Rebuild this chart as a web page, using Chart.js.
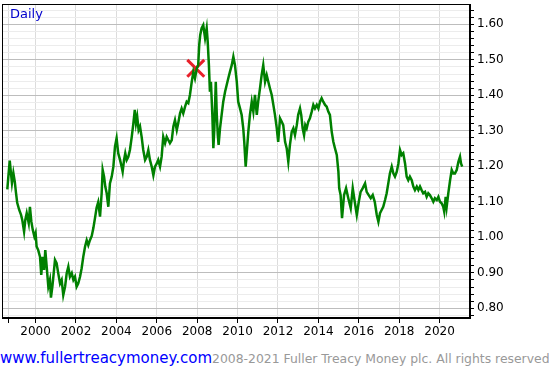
<!DOCTYPE html>
<html>
<head>
<meta charset="utf-8">
<script src="https://cdn.jsdelivr.net/npm/chart.js@4/dist/chart.umd.min.js"></script>
<style>
  body { margin: 0; background: #fff; width: 549px; height: 373px; overflow: hidden; position: relative; font-family: 'DejaVu Sans', sans-serif; }
  #chart { position: absolute; left: 0; top: 0; }
  #daily { position: absolute; left: 10px; top: 6px; color: #0000cc; font-size: 13px; line-height: 16px; }
  #foot { position: absolute; left: 0; top: 349px; white-space: nowrap; line-height: 18px; }
  #foot .url { color: #0000ff; font-size: 15px; }
  #foot .copy { color: #999999; font-size: 12.4px; }
</style>
</head>
<body>
<canvas id="chart" width="549" height="340"></canvas>
<div id="daily">Daily</div>
<div id="foot"><span class="url">www.fullertreacymoney.com</span><span class="copy">2008-2021 Fuller Treacy Money plc. All rights reserved</span></div>
<script>
// EUR/USD daily (year, rate)
const years = [
  1998.60, 1998.68, 1998.72, 1998.78, 1998.83, 1998.90, 1998.97, 1999.03, 1999.09, 1999.19,
  1999.28, 1999.34, 1999.43, 1999.49, 1999.56, 1999.66, 1999.72, 1999.79, 1999.86, 1999.94,
  2000.00, 2000.05, 2000.13, 2000.22, 2000.28, 2000.35, 2000.42, 2000.48, 2000.55, 2000.63,
  2000.71, 2000.76, 2000.83, 2000.88, 2000.96, 2001.04, 2001.12, 2001.21, 2001.29, 2001.37,
  2001.46, 2001.54, 2001.62, 2001.70, 2001.79, 2001.87, 2001.95, 2002.03, 2002.11, 2002.20,
  2002.28, 2002.36, 2002.45, 2002.53, 2002.61, 2002.69, 2002.78, 2002.86, 2002.94, 2003.02,
  2003.10, 2003.19, 2003.27, 2003.32, 2003.39, 2003.45, 2003.52, 2003.60, 2003.68, 2003.77,
  2003.85, 2003.93, 2004.01, 2004.09, 2004.18, 2004.26, 2004.31, 2004.38, 2004.44, 2004.51,
  2004.59, 2004.67, 2004.76, 2004.84, 2004.91, 2004.97, 2005.03, 2005.10, 2005.17, 2005.25,
  2005.33, 2005.42, 2005.50, 2005.58, 2005.66, 2005.75, 2005.83, 2005.91, 2006.00, 2006.07,
  2006.16, 2006.24, 2006.32, 2006.41, 2006.49, 2006.57, 2006.65, 2006.74, 2006.82, 2006.90,
  2006.99, 2007.06, 2007.15, 2007.23, 2007.31, 2007.40, 2007.48, 2007.56, 2007.64, 2007.73,
  2007.81, 2007.89, 2007.98, 2008.05, 2008.10, 2008.15, 2008.22, 2008.30, 2008.39, 2008.47,
  2008.52, 2008.58, 2008.63, 2008.68, 2008.75, 2008.80, 2008.85, 2008.92, 2008.97, 2009.02,
  2009.06, 2009.13, 2009.21, 2009.29, 2009.38, 2009.46, 2009.54, 2009.62, 2009.71, 2009.79,
  2009.87, 2009.96, 2010.03, 2010.12, 2010.20, 2010.28, 2010.33, 2010.40, 2010.47, 2010.53,
  2010.61, 2010.70, 2010.78, 2010.86, 2010.95, 2011.02, 2011.11, 2011.19, 2011.27, 2011.36,
  2011.44, 2011.52, 2011.60, 2011.69, 2011.77, 2011.85, 2011.94, 2012.01, 2012.10, 2012.18,
  2012.26, 2012.35, 2012.43, 2012.51, 2012.59, 2012.68, 2012.76, 2012.84, 2012.93, 2013.00,
  2013.09, 2013.15, 2013.22, 2013.29, 2013.35, 2013.42, 2013.50, 2013.58, 2013.67, 2013.75,
  2013.83, 2013.92, 2014.00, 2014.08, 2014.16, 2014.24, 2014.33, 2014.41, 2014.49, 2014.57,
  2014.66, 2014.74, 2014.82, 2014.91, 2014.99, 2015.03, 2015.10, 2015.17, 2015.27, 2015.37,
  2015.48, 2015.60, 2015.70, 2015.80, 2015.90, 2016.00, 2016.09, 2016.19, 2016.31, 2016.39,
  2016.49, 2016.59, 2016.69, 2016.79, 2016.89, 2016.97, 2017.05, 2017.13, 2017.21, 2017.30,
  2017.38, 2017.46, 2017.54, 2017.63, 2017.71, 2017.79, 2017.88, 2017.96, 2018.04, 2018.12,
  2018.20, 2018.29, 2018.37, 2018.45, 2018.53, 2018.62, 2018.70, 2018.78, 2018.87, 2018.95,
  2019.03, 2019.11, 2019.19, 2019.28, 2019.36, 2019.44, 2019.52, 2019.61, 2019.69, 2019.77,
  2019.86, 2019.94, 2020.02, 2020.10, 2020.18, 2020.23, 2020.30, 2020.35, 2020.43, 2020.52,
  2020.60, 2020.68, 2020.76, 2020.85, 2020.93, 2021.01, 2021.06, 2021.12
];
const rates = [
  1.135, 1.190, 1.216, 1.181, 1.153, 1.181, 1.157, 1.125, 1.097, 1.077,
  1.063, 1.049, 1.016, 1.049, 1.068, 1.040, 1.086, 1.044, 1.021, 1.002,
  1.012, 0.974, 0.964, 0.945, 0.894, 0.945, 0.908, 0.964, 0.917, 0.861,
  0.880, 0.830, 0.861, 0.889, 0.936, 0.927, 0.899, 0.870, 0.880, 0.837,
  0.861, 0.899, 0.917, 0.889, 0.899, 0.880, 0.889, 0.861, 0.870, 0.889,
  0.913, 0.945, 0.974, 0.992, 0.978, 0.992, 1.004, 1.026, 1.054, 1.083,
  1.099, 1.058, 1.124, 1.190, 1.171, 1.143, 1.124, 1.086, 1.152, 1.171,
  1.199, 1.255, 1.279, 1.237, 1.218, 1.199, 1.185, 1.218, 1.237, 1.218,
  1.227, 1.246, 1.283, 1.321, 1.359, 1.321, 1.340, 1.302, 1.312, 1.283,
  1.246, 1.218, 1.227, 1.246, 1.218, 1.199, 1.175, 1.199, 1.208, 1.218,
  1.199, 1.227, 1.283, 1.265, 1.283, 1.274, 1.265, 1.274, 1.312, 1.330,
  1.302, 1.321, 1.349, 1.363, 1.349, 1.368, 1.382, 1.378, 1.401, 1.438,
  1.466, 1.448, 1.476, 1.485, 1.542, 1.570, 1.589, 1.598, 1.561, 1.589,
  1.551, 1.485, 1.410, 1.438, 1.345, 1.251, 1.307, 1.438, 1.345, 1.288,
  1.260, 1.307, 1.345, 1.382, 1.410, 1.429, 1.448, 1.466, 1.485, 1.509,
  1.485, 1.438, 1.382, 1.363, 1.345, 1.307, 1.269, 1.199, 1.251, 1.297,
  1.345, 1.382, 1.354, 1.401, 1.345, 1.382, 1.420, 1.457, 1.485, 1.438,
  1.457, 1.438, 1.420, 1.401, 1.373, 1.345, 1.307, 1.269, 1.335, 1.326,
  1.316, 1.269, 1.251, 1.213, 1.260, 1.297, 1.307, 1.288, 1.316, 1.345,
  1.363, 1.345, 1.307, 1.288, 1.316, 1.307, 1.326, 1.335, 1.354, 1.373,
  1.363, 1.373, 1.363, 1.382, 1.392, 1.382, 1.373, 1.368, 1.354, 1.345,
  1.297, 1.269, 1.251, 1.232, 1.185, 1.138, 1.119, 1.054, 1.119, 1.138,
  1.110, 1.082, 1.138, 1.100, 1.063, 1.100, 1.128, 1.138, 1.152, 1.128,
  1.119, 1.110, 1.119, 1.100, 1.063, 1.044, 1.068, 1.077, 1.086, 1.105,
  1.124, 1.152, 1.180, 1.199, 1.180, 1.171, 1.185, 1.208, 1.246, 1.232,
  1.237, 1.208, 1.171, 1.161, 1.171, 1.161, 1.143, 1.133, 1.143, 1.133,
  1.143, 1.133, 1.124, 1.128, 1.114, 1.124, 1.119, 1.110, 1.100, 1.110,
  1.105, 1.114, 1.100, 1.096, 1.086, 1.072, 1.114, 1.086, 1.124, 1.161,
  1.190, 1.180, 1.180, 1.190, 1.213, 1.227, 1.208, 1.199
];

// red cross marker
const markerYear = [2007.93];
const markerRate = [1.476];

// axis ticks and labels
const xTickYears = [2000, 2002, 2004, 2006, 2008, 2010, 2012, 2014, 2016, 2018, 2020];
const xTickLabels = ['2000', '2002', '2004', '2006', '2008', '2010', '2012', '2014', '2016', '2018', '2020'];
const yMajor = [0.8, 0.9, 1.0, 1.1, 1.2, 1.3, 1.4, 1.5, 1.6];
const yLabels = ['0.80', '0.90', '1.00', '1.10', '1.20', '1.30', '1.40', '1.50', '1.60'];

const isMajor = v => yMajor.some(m => Math.abs(m - v) < 1e-6);

// box round the plot area (top and left sides)
const frame = {
    id: 'frame',
    afterDraw(chart) {
        const a = chart.chartArea;
        const c = chart.ctx;
        c.save();
        c.strokeStyle = '#000';
        c.lineWidth = 1;
        c.strokeRect(a.left + 0.5, a.top + 0.5, a.right - a.left - 1, a.bottom - a.top - 1);
        c.restore();
    }
};

const ctx = document.getElementById('chart').getContext('2d');
new Chart(ctx, {
    type: 'line',
    data: {
        datasets: [{
            data: years.map((y, i) => ({ x: y, y: rates[i] })),
            borderColor: '#008000',
            borderWidth: 2.5,
            pointRadius: 0,
            tension: 0,
            fill: false
        }, {
            type: 'scatter',
            data: markerYear.map((y, i) => ({ x: y, y: markerRate[i] })),
            pointStyle: 'crossRot',
            pointRadius: 12,
            borderColor: '#e8202a',
            borderWidth: 3,
            backgroundColor: '#e8202a'
        }]
    },
    options: {
        responsive: false,
        animation: false,
        devicePixelRatio: 1,
        layout: { autoPadding: false, padding: { left: 2, top: 4, right: 0, bottom: 0 } },
        plugins: {
            legend: { display: false },
            tooltip: { enabled: false }
        },
        scales: {
            x: {
                type: 'linear',
                min: 1998.337,
                max: 2021.505,
                afterFit: s => {
                    s.height = 22;
                    s.paddingLeft = 0;
                    s.paddingRight = 0;
                },
                afterBuildTicks: s => {
                    s.ticks = [1998.65].concat(xTickYears).map(v => ({ value: v }));
                },
                grid: { color: '#dcdcdc', tickColor: '#000', tickLength: 5 },
                border: { color: '#000' },
                ticks: {
                    autoSkip: false,
                    maxRotation: 0,
                    padding: 2,
                    color: '#000',
                    font: { family: 'DejaVu Sans', size: 12 },
                    callback: v => {
                        const i = xTickYears.indexOf(v);
                        return i >= 0 ? xTickLabels[i] : '';
                    }
                }
            },
            y: {
                position: 'right',
                min: 0.7727,
                max: 1.6572,
                afterFit: s => {
                    s.width = 79;
                    s.paddingTop = 0;
                    s.paddingBottom = 0;
                },
                afterBuildTicks: s => {
                    const t = [];
                    for (let k = 39; k <= 82; k++) t.push({ value: k / 50 });
                    s.ticks = t;
                },
                grid: {
                    color: c => isMajor(c.tick.value) ? '#bdbdbd' : '#ececec',
                    tickColor: '#000',
                    tickLength: 4
                },
                border: { color: '#000' },
                ticks: {
                    autoSkip: false,
                    padding: 3,
                    color: '#000',
                    font: { family: 'DejaVu Sans', size: 12 },
                    callback: v => {
                        const i = yMajor.findIndex(m => Math.abs(m - v) < 1e-6);
                        return i >= 0 ? yLabels[i] : '';
                    }
                }
            }
        }
    },
    plugins: [frame]
});
</script>
</body>
</html>
